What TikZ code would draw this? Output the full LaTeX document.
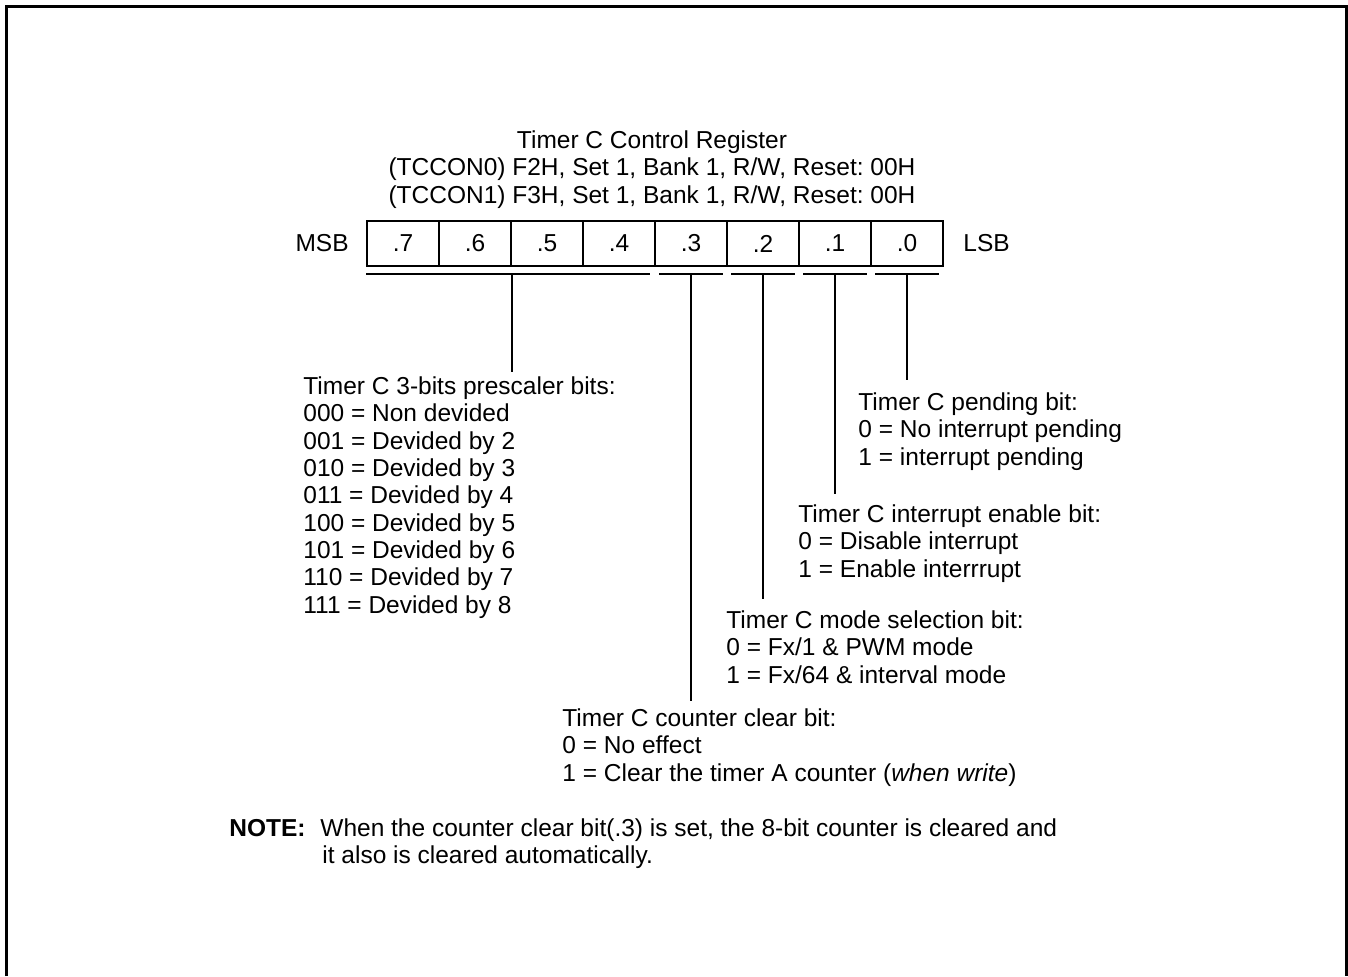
\documentclass[tikz,border=0pt]{standalone}
\usepackage{fontspec}
\setmainfont{Liberation Sans}
\usetikzlibrary{positioning}
\frenchspacing

\begin{document}
\begin{tikzpicture}[x=0.5pt,y=-0.5pt,font=\fontsize{12.25}{13.65}\selectfont,
  txt/.style={inner sep=0pt,align=left,anchor=north west},
  cell/.style={draw,line width=1pt,minimum width=36pt,minimum height=22.5pt,inner sep=0pt},
  lead/.style={line width=0.8pt}]
\useasboundingbox (0,0) rectangle (1348,976);
\draw[line width=1.5pt] (6.5,976) |- (1346,6.5) -- (1346,976);

% title
\node[txt,anchor=north,align=center] (title) at (652,130.5)
  {Timer C Control Register\\(TCCON0) F2H, Set 1, Bank 1, R/W, Reset: 00H\\(TCCON1) F3H, Set 1, Bank 1, R/W, Reset: 00H};

% register cells
\foreach \i [count=\k from 0] in {7,6,...,0}
  \node[cell] (b\i) at (403+72*\k,243.5) {.\i};
\node[left=8.5pt of b7,inner sep=0pt] (msb) {MSB};
\node[right=9.5pt of b0,inner sep=0pt] (lsb) {LSB};

% descriptions
\node[txt] (pre) at (303,376.5) {Timer C 3-bits prescaler bits:\\000 = Non devided\\001 = Devided by 2\\010 = Devided by 3\\011 = Devided by 4\\100 = Devided by 5\\101 = Devided by 6\\110 = Devided by 7\\111 = Devided by 8};
\node[txt] (pend) at (858,392.5) {Timer C pending bit:\\0 = No interrupt pending\\1 = interrupt pending};
\node[txt] (ien) at (798,504.5) {Timer C interrupt enable bit:\\0 = Disable interrupt\\1 = Enable interrrupt};
\node[txt] (mode) at (726,610.5) {Timer C mode selection bit:\\0 = Fx/1 \& PWM mode\\1 = Fx/64 \& interval mode};
\node[txt] (clr) at (562,708.5) {Timer C counter clear bit:\\0 = No effect\\1 = Clear the timer A counter (\textit{when write})};

% underlines and leaders
\coordinate (ul) at (0,274);
\draw[lead] (b7.south west |- ul) -- ([xshift=-3pt]b4.south east |- ul);
\foreach \i in {3,2,1,0}
  \draw[lead] ([xshift=2.5pt]b\i.south west |- ul) -- ([xshift=-2.5pt]b\i.south east |- ul);
\draw[lead,shorten >=2.5pt] ([xshift=1pt]b5.south west |- ul) -- ([xshift=1pt]b5.south west |- pre.north);
\draw[lead,shorten >=4pt] (b3 |- ul) -- (b3 |- clr.north);
\draw[lead,shorten >=6pt] (b2 |- ul) -- (b2 |- mode.north);
\draw[lead,shorten >=5.5pt] (b1 |- ul) -- (b1 |- ien.north);
\draw[lead,shorten >=6.5pt] (b0 |- ul) -- (b0 |- pend.north);

% note
\node[txt] (note) at (229,818.5) {\textbf{NOTE:}};
\node[txt] (notetxt) at (320,818.5) {When the counter clear bit(.3) is set, the 8-bit counter is cleared and\\\hspace{1pt}it also is cleared automatically.};
\end{tikzpicture}
\end{document}
